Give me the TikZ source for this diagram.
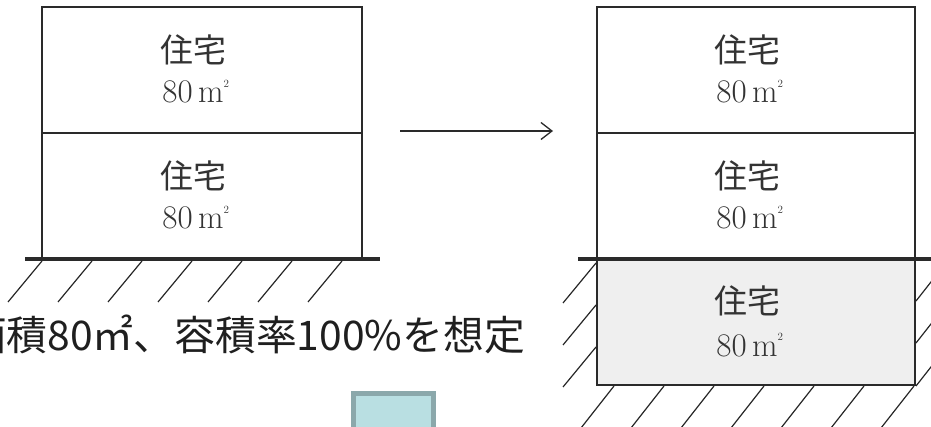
\documentclass[tikz,border=0pt]{standalone}
\usepackage{fontspec}
\usetikzlibrary{arrows.meta}
\newfontfamily\cjk{Noto Sans CJK JP}
\definecolor{wallc}{HTML}{2A2A2A}
\definecolor{labc}{HTML}{333333}
\definecolor{basefill}{HTML}{EFEFEF}
\definecolor{tealfill}{HTML}{B9DFE2}
\definecolor{tealedge}{HTML}{8BA8AB}
\newcommand{\sqm}{80\,m\makebox[0pt][l]{\raisebox{0.46em}{\fontsize{11}{11}\selectfont 2}}}
\begin{document}
\begin{tikzpicture}[x=1pt,y=-1pt,
  wall/.style={line width=2pt, draw=wallc},
  ground/.style={line width=3.6pt, draw=wallc},
  hatchline/.style={line width=1.2pt, draw=black!85},
  kanji/.style={font=\cjk\fontsize{33}{33}\selectfont, text=labc, inner sep=0pt, anchor=base},
  area/.style={font=\fontsize{33}{33}\selectfont, text=labc, inner sep=0pt, anchor=base},
  bigtext/.style={font=\cjk\fontsize{40.8}{40.8}\selectfont, text=black!88, inner sep=0pt, anchor=base east},
  arr/.style={line width=1.3pt, draw=wallc, -{Straight Barb[length=11pt,width=17pt,line width=1.3pt]}}]
\useasboundingbox (0,0) rectangle (931,427);
\clip (0,0) rectangle (931,427);

% ---------- left building ----------
\draw[wall] (42,259) -- (42,7) -- (362,7) -- (362,259);
\draw[wall] (42,133) -- (362,133);
\draw[ground] (25,259) -- (380,259);
\foreach \k in {0,...,6}
  \draw[hatchline] (42+50*\k,261) -- (8+50*\k,302);

\node[kanji] (l1a) at (193,63) {住宅};
\node[area]  (l1b) at (193,103) {\sqm};
\node[kanji] (l2a) at (193,189) {住宅};
\node[area]  (l2b) at (193,229) {\sqm};

% ---------- arrow ----------
\coordinate (arrs) at (400,131);
\coordinate (arre) at (553,131);
\draw[arr] (arrs) -- (arre);

% ---------- right building ----------
\fill[basefill] (597,259) rectangle (915,385);
\draw[wall] (597,259) -- (597,7) -- (915,7) -- (915,259);
\draw[wall] (597,133) -- (915,133);
\draw[wall] (597,259) -- (597,385) -- (915,385) -- (915,259);
\draw[ground] (578,259) -- (931,259);
% hatching left of basement
\foreach \y in {263,305,347}
  \draw[hatchline] (596,\y) -- (563,\y+40);
% hatching below basement
\foreach \k in {0,...,6}
  \draw[hatchline] (614+50*\k,386) -- (581+50*\k,428);
% hatching right of basement
\foreach \y in {301,343,386}
  \draw[hatchline] (916,\y) -- (949,\y-42);

\node[kanji] (r1a) at (747,63) {住宅};
\node[area]  (r1b) at (747,103) {\sqm};
\node[kanji] (r2a) at (747,189) {住宅};
\node[area]  (r2b) at (747,229) {\sqm};
\node[kanji] (r3a) at (747,314) {住宅};
\node[area]  (r3b) at (747,356) {\sqm};

% ---------- caption ----------
\node[bigtext] (cap) at (525,350) {面積80㎡、容積率100\%を想定};

% ---------- teal box ----------
\draw[line width=5pt, draw=tealedge, fill=tealfill] (353.5,393.5) rectangle (433.5,445);
\end{tikzpicture}
\end{document}
